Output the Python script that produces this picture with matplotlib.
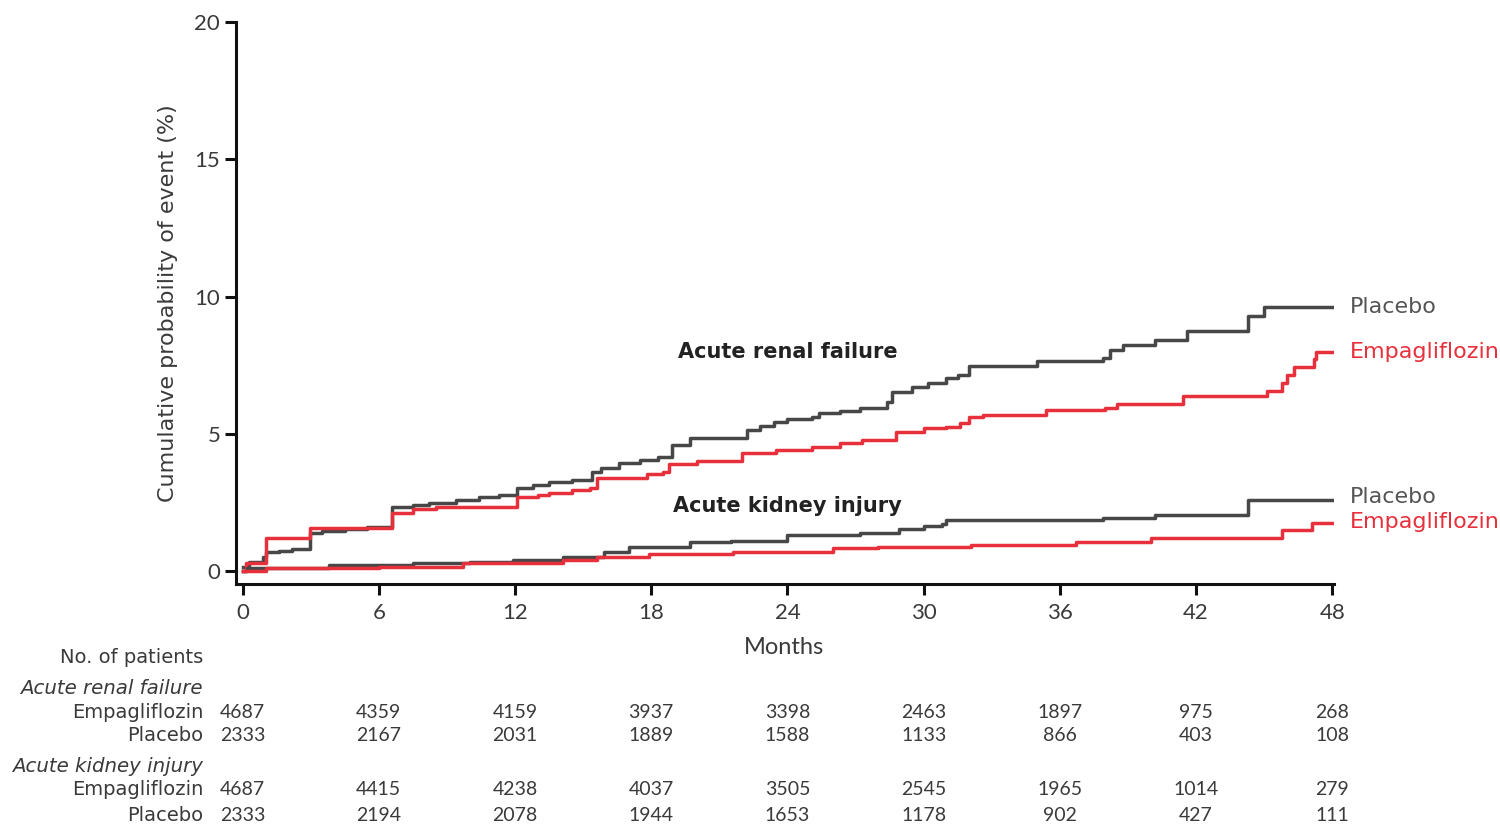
import matplotlib
matplotlib.use("Agg")
import matplotlib.pyplot as plt
from matplotlib.transforms import blended_transform_factory

plt.rcParams['font.family'] = ['Lato', 'DejaVu Sans']
WIDE = ['DejaVu Sans']

GRAY = '#474747'
RED = '#e8303c'
TEXT = '#3a3a3a'

# Kaplan-Meier step curves (month, cumulative %)
arf_placebo_t = [0, 0.3, 0.9, 1.05, 1.6, 2.2, 2.95, 3.5, 4.5, 5.5, 6.6, 7.5, 8.2, 9.4,
                 10.4, 11.3, 12.1, 12.8, 13.5, 14.5, 15.4, 15.8, 16.6, 17.5, 18.3, 18.9,
                 19.7, 22.2, 22.8, 23.4, 24.0, 25.1, 25.4, 26.3, 27.2, 28.4, 28.6, 29.5,
                 30.2, 31.0, 31.5, 32.0, 35.0, 37.9, 38.2, 38.8, 40.2, 41.6, 44.3, 45.0, 48.0]
arf_placebo_v = [0.15, 0.34, 0.52, 0.70, 0.75, 0.82, 1.38, 1.45, 1.55, 1.62, 2.34, 2.42, 2.47, 2.59,
                 2.71, 2.77, 3.02, 3.12, 3.25, 3.31, 3.62, 3.75, 3.93, 4.05, 4.15, 4.59,
                 4.84, 5.14, 5.30, 5.42, 5.53, 5.60, 5.77, 5.85, 5.93, 6.17, 6.53, 6.71,
                 6.85, 7.02, 7.15, 7.47, 7.65, 7.77, 8.05, 8.23, 8.41, 8.75, 9.29, 9.61, 9.61]

arf_empa_t = [0, 0.15, 1.05, 2.95, 6.6, 7.5, 8.5, 12.1, 13.0, 13.5, 14.5, 15.3, 15.6, 17.8,
              18.5, 18.8, 20.0, 22.0, 23.5, 25.1, 26.3, 27.3, 28.8, 30.0, 31.0, 31.6, 32.0,
              32.6, 35.4, 38.0, 38.5, 41.4, 45.1, 45.8, 46.0, 46.3, 47.2, 47.3, 48.0]
arf_empa_v = [0.0, 0.30, 1.20, 1.57, 2.11, 2.25, 2.34, 2.71, 2.78, 2.84, 2.95, 3.02, 3.39, 3.53,
              3.62, 3.92, 4.00, 4.31, 4.42, 4.53, 4.65, 4.77, 5.08, 5.20, 5.25, 5.38, 5.60,
              5.68, 5.86, 5.95, 6.08, 6.37, 6.56, 6.85, 7.14, 7.43, 7.72, 7.99, 7.99]

aki_placebo_t = [0, 0.2, 3.8, 7.5, 10.0, 11.9, 14.1, 15.9, 17.0, 19.7, 21.5, 24.0, 27.2,
                 28.9, 30.0, 30.8, 31.0, 37.9, 40.2, 44.3, 48.0]
aki_placebo_v = [0.0, 0.10, 0.22, 0.28, 0.34, 0.40, 0.52, 0.70, 0.89, 1.07, 1.10, 1.31, 1.37,
                 1.55, 1.65, 1.73, 1.86, 1.92, 2.06, 2.59, 2.59]

aki_empa_t = [0, 1.05, 6.0, 9.7, 14.1, 15.6, 17.9, 21.6, 26.0, 28.0, 32.1, 36.7, 40.0,
              45.8, 47.1, 48.0]
aki_empa_v = [0.0, 0.10, 0.16, 0.28, 0.40, 0.52, 0.64, 0.70, 0.83, 0.89, 0.95, 1.07, 1.19,
              1.49, 1.74, 1.74]

month_ticks = [0, 6, 12, 18, 24, 30, 36, 42, 48]
y_ticks = [0, 5, 10, 15, 20]

# Numbers at risk
arf_empa_n = [4687, 4359, 4159, 3937, 3398, 2463, 1897, 975, 268]
arf_placebo_n = [2333, 2167, 2031, 1889, 1588, 1133, 866, 403, 108]
aki_empa_n = [4687, 4415, 4238, 4037, 3505, 2545, 1965, 1014, 279]
aki_placebo_n = [2333, 2194, 2078, 1944, 1653, 1178, 902, 427, 111]

fig = plt.figure(figsize=(15, 8.26), dpi=100)
ax = fig.add_axes([0.157, 0.293, 0.732, 0.680])

lw = 2.5
ax.step(arf_placebo_t, arf_placebo_v, where='post', color=GRAY, lw=lw)
ax.step(arf_empa_t, arf_empa_v, where='post', color=RED, lw=lw)
ax.step(aki_placebo_t, aki_placebo_v, where='post', color=GRAY, lw=lw)
ax.step(aki_empa_t, aki_empa_v, where='post', color=RED, lw=lw)

ax.set_xlim(-0.31, 48.05)
ax.set_ylim(-0.47, 20)
ax.set_xticks(month_ticks)
ax.set_yticks(y_ticks)
for s in ['top', 'right']:
    ax.spines[s].set_visible(False)
for s in ['left', 'bottom']:
    ax.spines[s].set_linewidth(2.2)
    ax.spines[s].set_color('#111111')
ax.tick_params(axis='both', direction='out', length=8, width=2.2, color='#111111',
               labelsize=16, labelcolor=TEXT)
ax.tick_params(axis='x', pad=6)
ax.tick_params(axis='y', pad=3)

ax.set_xlabel('Months', fontsize=17, color=TEXT, labelpad=10)
ax.set_ylabel('Cumulative probability of event (%)', fontsize=16, color=TEXT,
              labelpad=12, family=WIDE)

# End-of-curve labels
lab_x = 48.75
lab_fs = 16
ax.text(lab_x, arf_placebo_v[-1], 'Placebo', color='#555555', fontsize=lab_fs,
        va='center', ha='left', clip_on=False, family=WIDE)
ax.text(lab_x, arf_empa_v[-1], 'Empagliflozin', color=RED, fontsize=lab_fs,
        va='center', ha='left', clip_on=False, family=WIDE)
ax.text(lab_x, 2.7, 'Placebo', color='#555555', fontsize=lab_fs,
        va='center', ha='left', clip_on=False, family=WIDE)
ax.text(lab_x, 1.78, 'Empagliflozin', color=RED, fontsize=lab_fs,
        va='center', ha='left', clip_on=False, family=WIDE)

ax.text(24.0, 8.0, 'Acute renal failure', fontsize=15, fontweight='bold',
        color='#222222', ha='center', va='center', family=WIDE)
ax.text(24.0, 2.37, 'Acute kidney injury', fontsize=15, fontweight='bold',
        color='#222222', ha='center', va='center', family=WIDE)

# Number-at-risk table
trans = blended_transform_factory(ax.transData, fig.transFigure)
label_x = 203 / 1500
fs = 14
fig.text(label_x, 0.2046, 'No. of patients', ha='right', va='center', fontsize=fs,
         color=TEXT, family=WIDE)
fig.text(label_x, 0.167, 'Acute renal failure', ha='right', va='center', fontsize=14.2,
         color=TEXT, style='italic', family=WIDE)
fig.text(label_x, 0.0726, 'Acute kidney injury', ha='right', va='center', fontsize=14.2,
         color=TEXT, style='italic', family=WIDE)

rows = [
    ('Empagliflozin', arf_empa_n, 0.138),
    ('Placebo', arf_placebo_n, 0.109),
    ('Empagliflozin', aki_empa_n, 0.0436),
    ('Placebo', aki_placebo_n, 0.0133),
]
for name, counts, yy in rows:
    fig.text(label_x, yy, name, ha='right', va='center', fontsize=fs, color=TEXT,
             family=WIDE)
    for m, n in zip(month_ticks, counts):
        ax.text(m, yy, str(n), transform=trans, ha='center', va='center',
                fontsize=14, color=TEXT, clip_on=False)

fig.savefig('out.png', dpi=100)
